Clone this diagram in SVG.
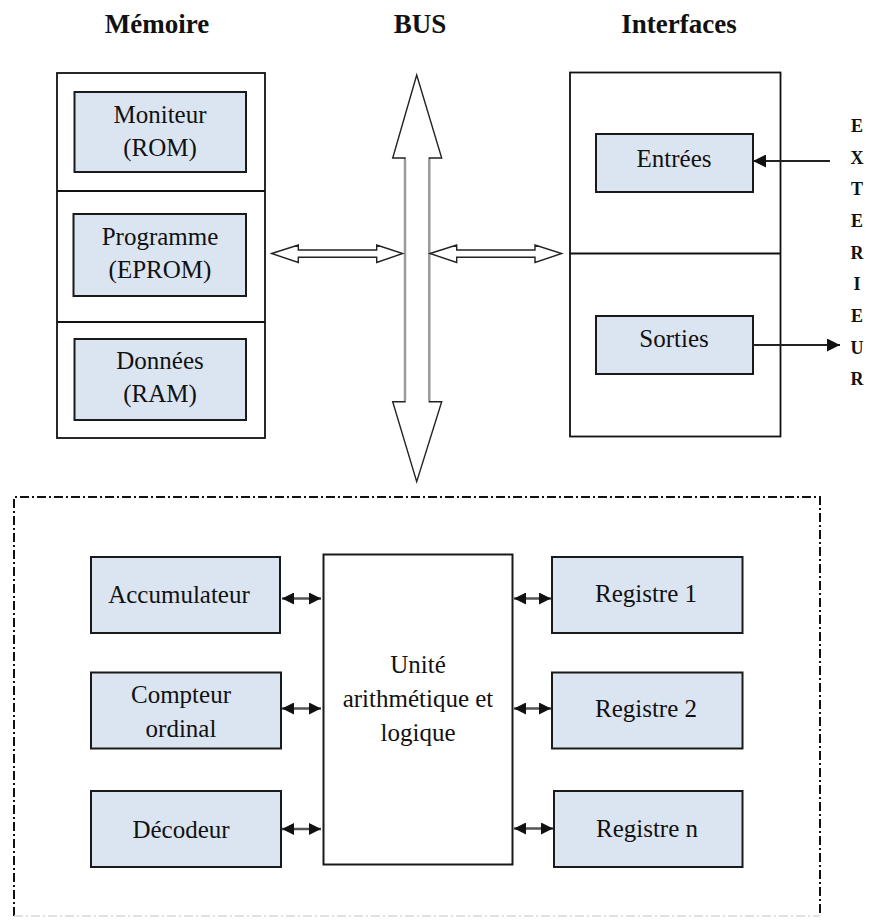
<svg xmlns="http://www.w3.org/2000/svg" width="869" height="922" viewBox="0 0 869 922">
<defs>
<style>
text{font-family:"Liberation Serif","Times New Roman",serif;fill:#111;}
.t{font-size:25px;text-anchor:middle;}
.h{font-size:27px;font-weight:bold;text-anchor:middle;}
.x{font-size:18px;font-weight:bold;text-anchor:middle;}
.frame{fill:#fff;stroke:#111;stroke-width:1.8;}
.box{fill:#dbe5f1;stroke:#1a1a1a;stroke-width:2;}
.big{fill:#fff;stroke:#222;stroke-width:1.4;stroke-linejoin:miter;}
.shaft{stroke:#9a9a9a;stroke-width:2.5;}
.small{stroke:#555;stroke-width:2.4;fill:none;}
.io{stroke:#222;stroke-width:2;fill:none;}
.dash{fill:none;stroke:#111;stroke-width:2;stroke-dasharray:9 3 2 3;}
</style>
<marker id="ah" viewBox="0 0 10 10" refX="10" refY="5" markerWidth="12" markerHeight="12" markerUnits="userSpaceOnUse" orient="auto-start-reverse">
<path d="M0,0 L10,5 L0,10 z" fill="#111"/>
</marker>
<marker id="ah2" viewBox="0 0 10 10" refX="10" refY="5" markerWidth="13" markerHeight="13" markerUnits="userSpaceOnUse" orient="auto">
<path d="M0,0 L10,5 L0,10 z" fill="#111"/>
</marker>
</defs>
<rect width="869" height="922" fill="#fff"/>

<g id="titles">
<text class="h" x="157" y="33">Mémoire</text>
<text class="h" x="420" y="33">BUS</text>
<text class="h" x="679" y="33">Interfaces</text>
</g>

<g id="memoire">
<rect class="frame" x="57" y="73" width="208" height="365"/>
<line x1="57" y1="191" x2="265" y2="191" stroke="#111" stroke-width="1.8"/>
<line x1="57" y1="322" x2="265" y2="322" stroke="#111" stroke-width="1.8"/>
</g>
<g id="moniteur">
<rect class="box" x="74.5" y="92" width="171.5" height="80"/>
<text class="t" x="160" y="123">Moniteur</text>
<text class="t" x="160" y="156">(ROM)</text>
</g>
<g id="programme">
<rect class="box" x="73.5" y="214" width="172.5" height="82"/>
<text class="t" x="160" y="245">Programme</text>
<text class="t" x="160" y="278">(EPROM)</text>
</g>
<g id="donnees">
<rect class="box" x="74.5" y="339" width="171.5" height="81"/>
<text class="t" x="160" y="369">Données</text>
<text class="t" x="160" y="402">(RAM)</text>
</g>

<g id="interfaces">
<rect class="frame" x="570" y="72.5" width="210.5" height="364"/>
<line x1="570" y1="253.5" x2="780.5" y2="253.5" stroke="#111" stroke-width="1.8"/>
</g>
<g id="entrees">
<rect class="box" x="596" y="134" width="157" height="58"/>
<text class="t" x="674" y="167">Entrées</text>
</g>
<g id="sorties">
<rect class="box" x="596" y="316" width="157" height="58"/>
<text class="t" x="674" y="347">Sorties</text>
</g>

<g id="exterieur">
<text class="x" x="857" y="132">E</text>
<text class="x" x="857" y="163.5">X</text>
<text class="x" x="857" y="195">T</text>
<text class="x" x="857" y="227">E</text>
<text class="x" x="857" y="258.5">R</text>
<text class="x" x="857" y="290">I</text>
<text class="x" x="857" y="322">E</text>
<text class="x" x="857" y="353.5">U</text>
<text class="x" x="857" y="385">R</text>
</g>

<g id="cpu">
<path class="dash" d="M14,916 L14,497 L820,497 L820,916"/>
<line x1="14" y1="916" x2="820" y2="916" stroke="#d8d8d8" stroke-width="1.5" stroke-dasharray="9 3 2 3"/>
</g>

<g id="accumulateur">
<rect class="box" x="91" y="557" width="189" height="76"/>
<text class="t" x="179" y="603">Accumulateur</text>
</g>
<g id="compteur">
<rect class="box" x="91" y="672.5" width="190" height="76"/>
<text class="t" x="181" y="703">Compteur</text>
<text class="t" x="181" y="737">ordinal</text>
</g>
<g id="decodeur">
<rect class="box" x="91" y="791" width="190" height="76"/>
<text class="t" x="181" y="838">Décodeur</text>
</g>
<g id="alu">
<rect x="323.5" y="554.5" width="189" height="310" fill="#fff" stroke="#1a1a1a" stroke-width="2"/>
<text class="t" x="418" y="673">Unité</text>
<text class="t" x="418" y="707">arithmétique et</text>
<text class="t" x="418" y="741">logique</text>
</g>
<g id="registre1">
<rect class="box" x="552" y="557" width="190.5" height="76"/>
<text class="t" x="646" y="602">Registre 1</text>
</g>
<g id="registre2">
<rect class="box" x="552" y="672.5" width="190.5" height="76"/>
<text class="t" x="646" y="717">Registre 2</text>
</g>
<g id="registren">
<rect class="box" x="554" y="791" width="188.5" height="76"/>
<text class="t" x="647" y="837">Registre n</text>
</g>

<g id="connectors">
<polygon class="big" points="416.7,75 441.7,158 429.3,158 429.3,401.7 441.7,401.7 416.7,481.7 392.7,401.7 405,401.7 405,158 392.7,158"/>
<line class="shaft" x1="405" y1="159" x2="405" y2="401"/>
<line class="shaft" x1="429.3" y1="159" x2="429.3" y2="401"/>
<polygon class="big" points="271.7,253.5 298.3,245 298.3,250 376.7,250 376.7,245 402.7,253.5 376.7,262.5 376.7,257.3 298.3,257.3 298.3,262.5"/>
<polygon class="big" points="430,253.5 456.7,245 456.7,250 535,250 535,245 561.7,253.5 535,262.5 535,257.3 456.7,257.3 456.7,262.5"/>
<line class="io" x1="830" y1="161" x2="753" y2="161" marker-end="url(#ah2)"/>
<line class="io" x1="753" y1="345" x2="840" y2="345" marker-end="url(#ah2)"/>
<line class="small" x1="282" y1="598.5" x2="321" y2="598.5" marker-start="url(#ah)" marker-end="url(#ah)"/>
<line class="small" x1="282" y1="708.5" x2="321" y2="708.5" marker-start="url(#ah)" marker-end="url(#ah)"/>
<line class="small" x1="282" y1="829" x2="321" y2="829" marker-start="url(#ah)" marker-end="url(#ah)"/>
<line class="small" x1="514" y1="598.5" x2="551" y2="598.5" marker-start="url(#ah)" marker-end="url(#ah)"/>
<line class="small" x1="514" y1="708.5" x2="551" y2="708.5" marker-start="url(#ah)" marker-end="url(#ah)"/>
<line class="small" x1="514" y1="828.5" x2="553" y2="828.5" marker-start="url(#ah)" marker-end="url(#ah)"/>
</g>
</svg>
